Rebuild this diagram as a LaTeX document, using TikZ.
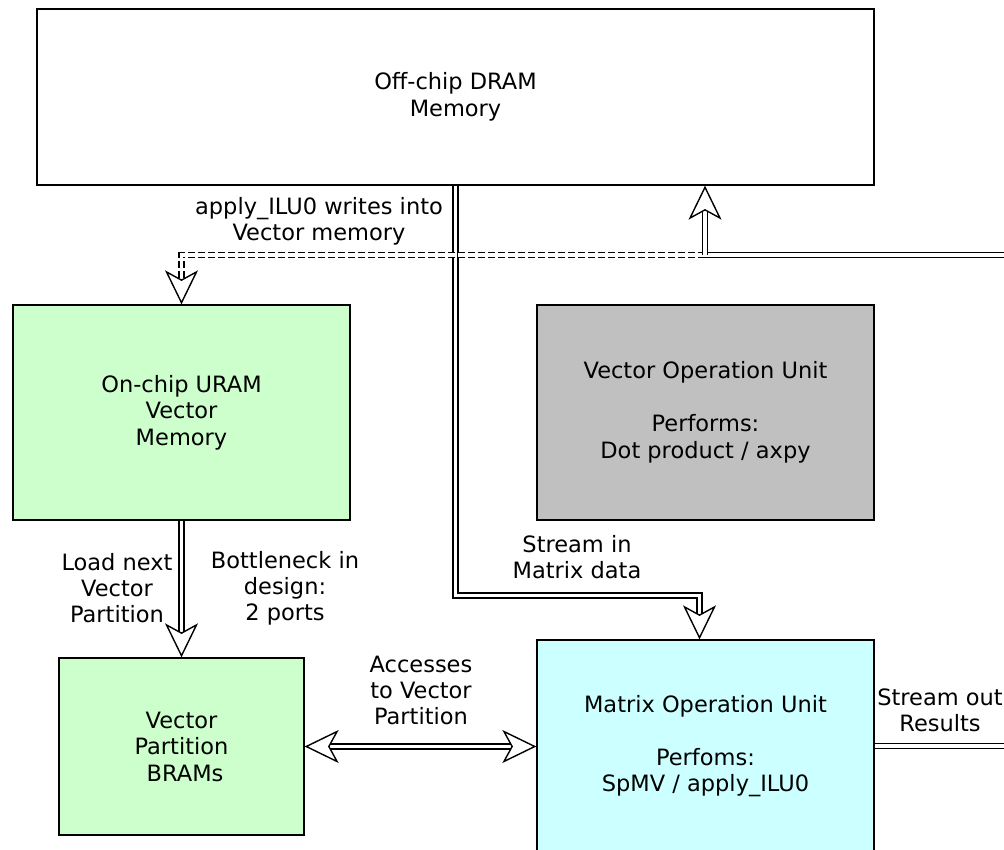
\documentclass[tikz,border=0pt]{standalone}
\usepackage{fontspec}
\setmainfont{DejaVu Sans}
\usetikzlibrary{arrows.meta}
\definecolor{vgreen}{HTML}{CCFFCC}
\definecolor{vgray}{HTML}{C0C0C0}
\definecolor{vcyan}{HTML}{CCFFFF}
\begin{document}
\begin{tikzpicture}[x=1pt,y=-1pt,
  box/.style={draw=black,line width=1.3pt,rectangle,inner sep=0pt,align=center,
    font=\fontsize{22.5}{26.5}\selectfont},
  lbl/.style={align=center,inner sep=0pt,font=\fontsize{22.5}{26}\selectfont},
  dbl/.style={double=white,double distance=3.6pt,line width=1.4pt},
  tip/.tip={Stealth[length=34pt,width=33pt,inset=9pt,fill=white,line width=1.4pt]},
  arr/.style={-{tip}},
  arrb/.style={{tip}-{tip}}]
\useasboundingbox (0,0) rectangle (1004,850);
\begin{scope}
\clip (0,0) rectangle (1004,850);
\node[box,minimum width=837pt,minimum height=176pt] (dram) at (455.5,97) {Off-chip DRAM\\Memory};
\node[box,fill=vgreen,minimum width=337pt,minimum height=215pt] (uram) at (181.5,412.5) {On-chip URAM\\Vector\\Memory};
\node[box,fill=vgray,minimum width=337pt,minimum height=215pt] (vop) at (705.5,412.5) {Vector Operation Unit\\[26.5pt]Performs:\\Dot product / axpy};
\node[box,fill=vgreen,minimum width=245pt,minimum height=177pt] (bram) at (181.5,746.5) {Vector\\Partition\\\ BRAMs};
\node[box,fill=vcyan,minimum width=337pt,minimum height=212pt] (mop) at (705.5,746) {Matrix Operation Unit\\[26.5pt]Perfoms:\\SpMV / apply\_ILU0};

\coordinate (junc) at (705,255);
\coordinate (offA) at (1012,255);
\coordinate (offB) at (1012,746);

\draw[dbl,arr] (dram.south) -- ++(0,410) -| ([xshift=-6pt]mop.north);
\draw[dbl,dashed,dash pattern=on 7pt off 3pt,arr] (junc) -| (uram.north);
\draw[dbl] (offA) -- (junc);
\draw[dbl,arr] (junc) -- (junc |- dram.south);
\draw[dbl,arr] (uram.south) -- (bram.north);
\draw[dbl,arrb] (bram.east) -- (bram.east -| mop.west);
\draw[dbl] (mop.east) -- (offB);

\node[lbl] (l1) at (319,221) {apply\_ILU0 writes into\\Vector memory};
\node[lbl] (l2) at (577,557) {Stream in\\Matrix data};
\node[lbl] (l3) at (117,588) {Load next\\Vector\\Partition};
\node[lbl] (l4) at (285,588) {Bottleneck in\\design:\\2 ports};
\node[lbl] (l5) at (421,690) {Accesses\\to Vector\\Partition};
\node[lbl] (l6) at (940,710) {Stream out\\Results};
\end{scope}
\end{tikzpicture}
\end{document}
